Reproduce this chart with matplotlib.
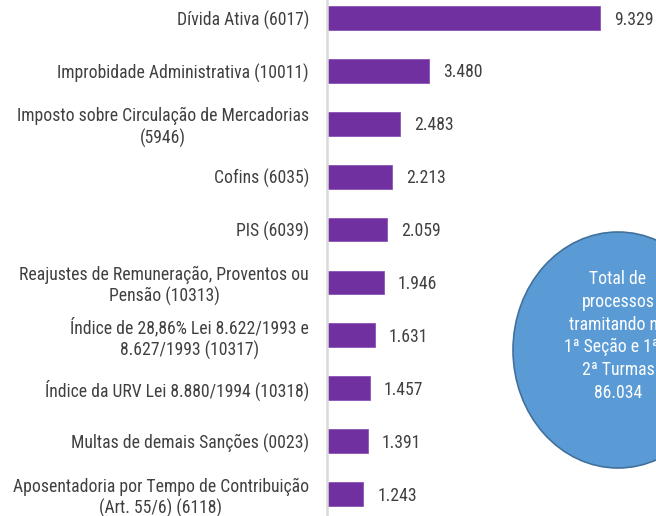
import matplotlib
matplotlib.use("Agg")
import matplotlib.pyplot as plt
from matplotlib.patches import Ellipse
from matplotlib import font_manager

categories = [
    "Dívida Ativa (6017)",
    "Improbidade Administrativa (10011)",
    "Imposto sobre Circulação de Mercadorias\n(5946)",
    "Cofins (6035)",
    "PIS (6039)",
    "Reajustes de Remuneração, Proventos ou\nPensão (10313)",
    "Índice de 28,86% Lei 8.622/1993 e\n8.627/1993 (10317)",
    "Índice da URV Lei 8.880/1994 (10318)",
    "Multas de demais Sanções (0023)",
    "Aposentadoria por Tempo de Contribuição\n(Art. 55/6) (6118)",
]
values = [9329, 3480, 2483, 2213, 2059, 1946, 1631, 1457, 1391, 1243]
value_labels = ["9.329", "3.480", "2.483", "2.213", "2.059", "1.946", "1.631", "1.457", "1.391", "1.243"]
bubble_text = "Total de\nprocessos\ntramitando na\n1ª Seção e 1ª e\n2ª Turmas\n86.034"

names = {f.name for f in font_manager.fontManager.ttflist}
prefs = ["Liberation Sans Narrow", "Arial Narrow", "Roboto Condensed", "PT Sans Narrow", "Archivo Narrow"]
main = next((p for p in prefs if p in names), "Liberation Sans")
plt.rcParams["font.family"] = [main, "DejaVu Sans"]
plt.rcParams["font.stretch"] = "condensed"

FS = 12.7
W, H = 656, 516
fig = plt.figure(figsize=(W / 100, H / 100), dpi=100)
ax = fig.add_axes([327 / W, 0, 1 - 327 / W, 1])

ys = list(range(len(values)))
ax.barh(ys, values, height=0.45, color="#7030A0", edgecolor="#8A55B5", linewidth=0.6)
ax.set_xlim(0, 11240)
ax.set_ylim(9.414, -0.340)

for y, v, lab in zip(ys, values, value_labels):
    ax.text(v + 480, y + 0.03, lab, va="center", ha="left", fontsize=FS, color="#404040")

ax.set_yticks(ys)
ax.set_yticklabels(categories, fontsize=FS, color="#404040", multialignment="center")
ax.tick_params(axis="y", length=0, pad=13)
ax.set_xticks([])
for s in ["top", "right", "bottom"]:
    ax.spines[s].set_visible(False)
ax.spines["left"].set_color("#D9D9D9")
ax.spines["left"].set_linewidth(1.8)

cx, cy = 618, H - 350
ell = Ellipse((cx / W, cy / H), 2 * 105 / W, 2 * 118 / H, transform=fig.transFigure,
              facecolor="#5B9BD5", edgecolor="#41719C", linewidth=1.2, clip_on=False)
fig.patches.append(ell)
fig.text(cx / W, (H - 336) / H, bubble_text, ha="center", va="center", color="white",
         fontsize=FS, linespacing=1.33, multialignment="center")

fig.savefig("out.png", dpi=100, facecolor="white")
